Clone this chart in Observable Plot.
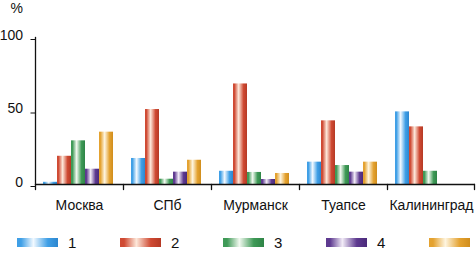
<!DOCTYPE html>
<html>
<head>
<meta charset="utf-8">
<script src="https://cdn.jsdelivr.net/npm/d3@7"></script>
<script src="https://cdn.jsdelivr.net/npm/@observablehq/plot@0.6"></script>
<style>
  html, body { margin: 0; padding: 0; background: #fff; }
  body { width: 476px; height: 254px; overflow: hidden; font-family: "Liberation Sans", Arial, sans-serif; }
  #chart svg { display: block; }
  #legend { display: flex; white-space: nowrap; overflow: hidden; width: 476px; height: 24px; padding-left: 17px; box-sizing: border-box; align-items: center; }
  .item { flex: 0 0 103px; display: flex; align-items: center; font-size: 15px; color: #111; }
  .sw { width: 41px; height: 9px; margin-right: 10px; flex: 0 0 41px; }
</style>
</head>
<body>
<div id="chart"></div>
<div id="legend"></div>
<script>
const cities = ["Москва", "СПб", "Мурманск", "Туапсе", "Калининград"];
const series = ["1", "2", "3", "4", "5"];
const s1 = [1.5, 17.7, 9, 15.2, 49.4];
const s2 = [19.2, 51, 68.4, 43.3, 39.2];
const s3 = [29.7, 3.6, 8.2, 12.9, 9];
const s4 = [10.4, 8.4, 3.4, 8.4, 0];
const s5 = [35.6, 16.5, 7.5, 15.2, 0];
const yTicks = [0, 50, 100];
const colors = [
  {base: "#3f9fe6", light: "#f2f9ff", dark: "#2c86cf"},
  {base: "#cf4a33", light: "#fde8da", dark: "#b53924"},
  {base: "#3f9a57", light: "#f2f9f0", dark: "#2e8446"},
  {base: "#5e3a90", light: "#f2ecf7", dark: "#4a2a7a"},
  {base: "#e4a230", light: "#fef5e0", dark: "#d08d1c"}
];

const values = [s1, s2, s3, s4, s5];
const data = [];
cities.forEach((c, i) => series.forEach((s, j) => data.push({city: c, series: s, value: values[j][i]})));
const grads = series.map((s, j) => `url(#g${j})`);

const tickShape = {draw(context, l) { context.moveTo(0, 0); context.lineTo(0, -l); }};

const chart = Plot.plot({
  width: 476,
  height: 230,
  marginTop: 37,
  marginBottom: 46,
  marginLeft: 34,
  marginRight: 0,
  style: {fontFamily: "'Liberation Sans', Arial, sans-serif", fontSize: "14px", color: "#111"},
  fx: {domain: cities, paddingInner: 0, paddingOuter: 0},
  x: {domain: series, paddingInner: 0, paddingOuter: 0.45, align: 0.42, axis: null},
  y: {domain: [0, 100]},
  color: {domain: series, range: grads},
  marks: [
    Plot.barY(data, {fx: "city", x: "series", y: "value", fill: "series"}),
    Plot.ruleY([0], {stroke: "#111", strokeWidth: 1.3}),
    Plot.frame({anchor: "left", facetAnchor: "left", stroke: "#111", strokeWidth: 1.3}),
    Plot.vector([0], {frameAnchor: "bottom-left", length: 5, rotate: 180, anchor: "start", shape: tickShape, stroke: "#111", strokeWidth: 1.3}),
    Plot.vector([0], {frameAnchor: "bottom-right", facetAnchor: "right", length: 5, rotate: 180, anchor: "start", shape: tickShape, stroke: "#111", strokeWidth: 1.3, dx: -1}),
    Plot.axisY({ticks: yTicks, tickSize: 4.5, tickPadding: 8, fontSize: 14, lineAnchor: "bottom", dy: 2,
      label: "%", labelAnchor: "top", labelArrow: "none", labelOffset: 25}),
    Plot.axisFx({anchor: "bottom", tickSize: 0, tickPadding: 16, fontSize: 14, label: null})
  ]
});

const defs = d3.select(chart).insert("defs", ":first-child");
colors.forEach((c, j) => {
  const g = defs.append("linearGradient").attr("id", `g${j}`).attr("x1", 0).attr("x2", 1).attr("y1", 0).attr("y2", 0);
  [[0, c.base], [0.1, c.base], [0.4, c.light], [0.75, c.base], [1, c.dark]].forEach(([o, col]) =>
    g.append("stop").attr("offset", o).attr("stop-color", col));
});
document.getElementById("chart").appendChild(chart);

const legend = d3.select("#legend");
series.forEach((s, j) => {
  const c = colors[j];
  const it = legend.append("div").attr("class", "item");
  it.append("div").attr("class", "sw")
    .style("background", `linear-gradient(to right, ${c.base} 0%, ${c.base} 10%, ${c.light} 40%, ${c.base} 75%, ${c.dark} 100%)`);
  it.append("span").text(s);
});
// the legend runs past the right edge, as in the reference: drop labels that do not fit
legend.selectAll("span").each(function() {
  if (this.getBoundingClientRect().right > 476) this.remove();
});
</script>
</body>
</html>
